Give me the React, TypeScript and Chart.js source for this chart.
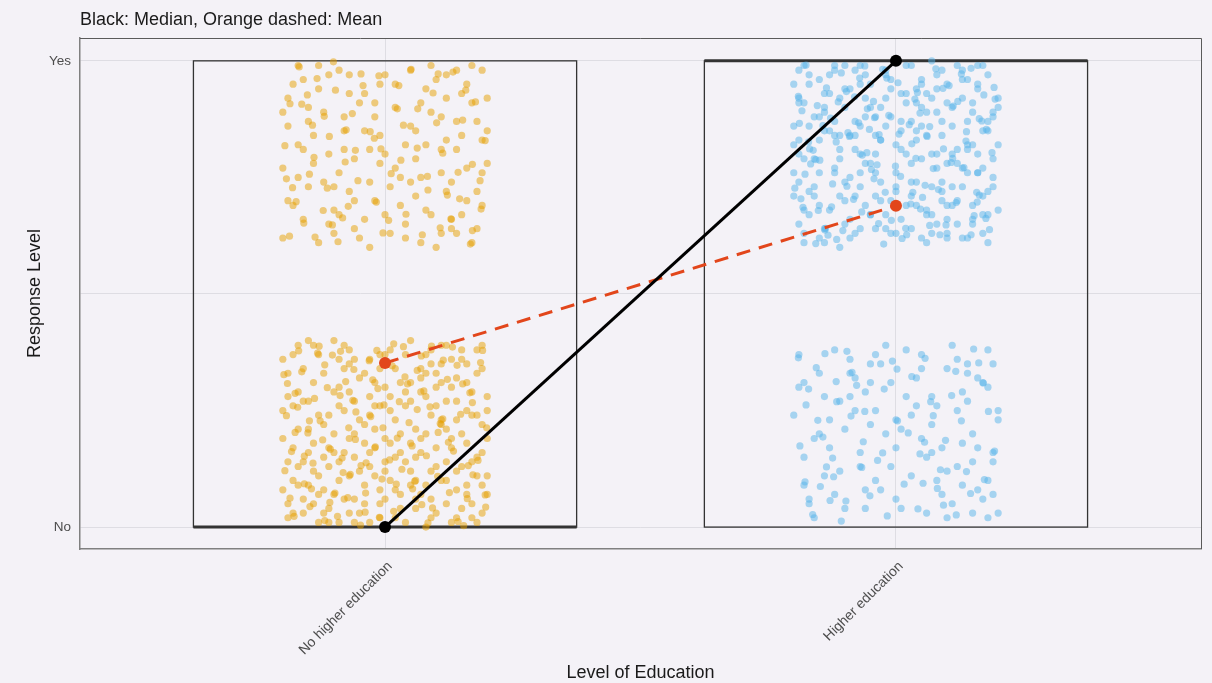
import React, { useEffect, useRef } from "react";
import { Chart, registerables } from "chart.js";

Chart.register(...registerables);

// ---------------- data ----------------
const categories = ["No higher education", "Higher education"];
const responseLevels = ["No", "Yes"];
const yTickValues = [0, 0.5, 1];
const medianValues = [0, 1];
const meanValues = [0.352, 0.689];
const boxLower = [0, 0];
const boxUpper = [1, 1];

// jitter offsets: pairs [dx, dy]
// (dy measured away from the response level, into the panel)
// first set in hundredths of a unit
const jitterNoEduNo = [
  -18,3, 5,12, 14,27, -7,35, 2,8, 19,16, -12,22, 9,38, -3,1, 16,31,
  -15,9, 7,19, -1,26, 12,5, -19,33, 4,37, 18,11, -9,14, 0,30, -6,6,
  11,23, -14,39, 17,2, -4,18, 8,28, -17,13, 3,4, 15,36, -10,29, 6,15,
  -2,21, 20,7, -13,1, 10,33, -8,25, 1,10, 13,17, -16,27, 5,40, -11,4,
  18,24, -5,32, 9,2, -20,19, 14,12, -1,37, 7,29, -15,16, 2,23, 16,7,
  -7,11, 12,39, -3,28, 19,34, -12,8, 6,21, -18,26, 0,14, 10,3, -9,36,
  4,26, -14,5, 15,20, -6,15, 11,35, -19,2, 8,9, -2,31, 17,14, -10,20,
  1,38, -16,34, 13,1, -4,9, 20,28, -8,39, 3,16, -13,24, 9,12, -1,5,
  14,32, -11,17, 6,6, -17,29, 18,38, -5,23, 11,10, -20,36, 0,19, 7,34,
  -9,1, 16,25, -3,13, 12,21, -15,40, 5,27, -7,3, 19,9, -12,33, 2,2,
  10,17, -18,10, 13,36, -6,27, 8,0, -14,18, 17,29, -1,34, 4,14, -10,7,
  15,4, -4,22, 20,19, -16,6, 7,32, -8,16, 1,25, -19,28, 11,39, -2,11,
  18,1, -13,37, 5,18, -11,13, 14,8, -5,3, 9,24, -17,21, 3,31, -7,38,
  12,14, -20,25, 0,6, 16,35, -9,30, 6,10, -14,12, 19,22, -3,36, 10,26,
  -12,3, 2,15, 17,5, -6,20, 13,30, -18,17, 8,37, -1,8, 15,13, -10,40,
  4,1, -15,27, 11,22, -4,33, 20,11, -8,6, 7,16, -17,9, 1,28, 14,2,
  -2,17, 18,33, -11,24, 9,6, -19,14, 5,31, -6,1, 12,27, -13,11, 3,20,
  16,9, -7,29, 0,37, -16,3, 10,13, -3,24, 19,39, -12,15, 6,4, -9,26,
  13,19, -20,8, 2,34, -5,12, 17,24, -14,31, 8,20, -1,2, 11,31, -18,37,
  7,7, -10,16, 15,38, -4,5, 1,18, -15,21, 19,3, -8,34, 4,29, 12,10,
  -13,7, 9,35, -2,26, 18,15, -17,39, 5,9, -7,19, 14,23, -11,1, 0,12,
  10,30, -16,14, 3,7, -6,36, 16,18, -9,10, 20,25, -3,16, 8,33, -19,5,
];

const jitterNoEduYes = [
  -16,4, 8,18, 15,33, -3,26, 2,10, 19,2, -10,37, 6,29, -19,14, 12,8,
  -6,21, 17,39, -13,6, 4,35, -1,16, 11,24, -18,31, 9,1, -8,12, 14,19,
  0,3, -15,27, 18,13, -5,38, 7,9, -11,20, 13,36, -2,30, 20,22, -17,1,
  3,25, -9,33, 16,5, -14,16, 10,40, -4,7, 5,14, -20,23, 12,28, -7,3,
  19,31, -12,11, 1,37, 15,16, -16,34, 8,6, -3,19, 11,12, -10,27, 6,21,
  -19,8, 14,2, -6,30, 2,23, 17,9, -13,39, 9,33, -1,5, 13,26, -8,15,
  4,38, -17,18, 20,15, -11,3, 7,25, -4,34, 16,30, -15,10, 0,20, 10,4,
  -9,24, 18,36, -2,12, 12,17, -20,38, 5,2, -7,28, 15,7, -14,22, 3,31,
  11,37, -5,9, 19,24, -18,5, 6,15, -10,32, 14,13, -3,40, 1,27, -16,19,
  9,11, -12,26, 17,1, -1,22, 13,34, -7,7, 4,18, -19,30, 20,8, -6,36,
  2,5, 16,23, -15,13, 8,32, -9,2, 11,19, -4,15, 18,28, -11,35, 7,39,
  -2,9, 14,37, -17,25, 0,33, 12,3, -8,19, 5,26, -13,1, 19,17, -20,11,
];

const jitterEduYes = [
  -19,2, 6,11, 14,24, -5,33, 1,7, 18,15, -11,21, 10,37, -2,3, 17,29,
  -14,10, 8,20, 0,27, 13,4, -18,32, 3,36, 19,12, -8,16, -1,30, -7,5,
  12,22, -15,38, 16,1, -3,17, 9,28, -16,12, 4,6, 15,35, -9,25, 5,14,
  -4,20, 20,8, -12,2, 11,31, -7,24, 2,9, 14,18, -17,28, 6,39, -10,6,
  17,23, -6,31, 8,3, -20,18, 15,11, -2,36, 7,27, -14,15, 3,22, 16,6,
  -8,13, 13,38, -4,29, 18,33, -13,7, 5,21, -19,26, 1,13, 9,2, -10,35,
  3,26, -15,4, 14,19, -7,14, 10,34, -18,1, 7,8, -3,30, 18,13, -11,19,
  0,37, -17,33, 12,1, -5,10, 19,27, -9,38, 4,15, -12,23, 8,11, -1,4,
  15,31, -12,16, 5,5, -16,29, 17,37, -6,22, 10,9, -19,35, 1,19, 6,33,
  -10,1, 16,24, -4,12, 11,20, -14,39, 4,26, -8,2, 20,10, -13,32, 2,1,
  9,16, -19,9, 12,35, -7,27, 7,0, -15,17, 18,28, -2,33, 3,13, -11,8,
  14,4, -5,22, 20,18, -17,5, 6,32, -9,16, 0,24, -20,29, 10,38, -3,10,
  17,1, -14,36, 4,17, -12,13, 13,8, -6,3, 8,23, -18,21, 2,31, -8,37,
  11,14, -20,24, -1,6, 15,34, -10,30, 5,10, -15,12, 19,21, -4,36, 9,26,
  -13,3, 1,15, 16,5, -7,20, 12,30, -19,17, 7,37, -2,8, 14,13, -11,40,
  3,1, -16,27, 10,22, -5,33, 19,11, -9,6, 6,16, -18,9, 0,28, 13,2,
  -3,17, 17,33, -12,24, 8,6, -20,14, 4,31, -7,1, 11,27, -14,11, 2,20,
  15,9, -8,29, -1,37, -17,3, 9,13, -4,24, 18,39, -13,15, 5,4, -10,26,
  12,19, -19,8, 1,34, -6,12, 16,24, -15,31, 7,20, -2,2, 10,31, -18,37,
  6,7, -11,16, 14,38, -5,5, 0,18, -16,21, 18,3, -9,34, 3,29, 11,10,
  -14,7, 8,35, -3,26, 17,15, -18,39, 4,9, -8,19, 13,23, -12,1, -1,12,
  9,30, -17,14, 2,7, -7,36, 15,18, -10,10, 19,25, -4,16, 7,33, -20,5,
  13,27, -6,8, 20,32, -15,24, 5,38, -11,29, 16,20, -2,14, 10,5, -19,20,
];

const jitterEduNo = [
  -17,5, 9,17, 16,32, -4,25, 3,11, 20,3, -9,36, 7,28, -18,15, 13,9,
  -5,22, 18,38, -12,7, 5,34, 0,17, 12,25, -19,30, 10,2, -7,13, 15,20,
  1,4, -14,28, 19,14, -4,37, 8,10, -10,21, 14,35, -1,31, 20,23, -16,2,
  4,26, -8,32, 17,6, -13,17, 11,39, -3,8, 6,15, -20,24, 13,29, -6,4,
  18,30, -11,12, 2,38, 16,17, -15,33, 9,7, -2,20, 12,13, -9,28, 7,22,
  -18,9, 15,3, -5,31, 3,24, 18,10, -12,38, 10,34, 0,6, 14,27, -7,16,
  5,37, -16,19, 19,16, -10,4, 8,26, -3,35, 17,31, -14,11, 1,21, 11,5,
  -8,25, 19,35, -1,13, 13,18, -19,37, 6,3, -6,29, 16,8, -13,23, 4,32,
  12,36, -4,10, 20,25, -17,6, 7,16, -9,33, 15,14, -2,39, 2,28, -15,20,
  10,12, -11,27, 18,2, 0,23, 14,33, -6,8, 5,19, -18,31, 19,7, -5,35,
];

// second set in thousandths of a unit
const jitterNoEduNoFine = [
  187,353, -63,272, -141,137, 72,48, -24,316, -193,239, 124,182, -93,23, 36,387, -158,93,
  152,307, -71,213, 9,144, -118,348, 196,69, -39,32, -176,287, 88,258, -6,103, 63,336,
  -107,167, 143,12, -169,378, 47,224, -82,117, 171,267, -31,357, -147,44, 103,109, -57,247,
  24,191, -198,327, 132,386, -98,73, 81,153, -14,297, -127,228, 163,132, -48,4, 114,358,
  -183,162, 54,82, -87,377, 199,213, -138,276, 17,34, -68,113, 148,242, -19,172, -163,333,
  76,292, -118,14, 33,124, -186,62, 122,317, -58,188, 182,143, -2,262, -103,369, 93,41,
  -37,138, 141,347, -151,202, 63,252, -108,53, 191,379, -77,312, 22,92, -171,257, 104,203,
  -11,21, 161,61, -129,388, 44,307, -196,121, 84,9, -28,237, 134,163, -88,282, 14,346,
  -144,82, 113,232, -61,338, 172,112, -178,23, 53,174, -113,299, 197,43, -4,213, -73,63,
  91,388, -158,152, 28,269, -122,187, 154,3, -47,132, 71,367, -191,308, 126,74, -16,379,
  108,222, -132,373, 58,98, -176,203, 17,393, -84,148, 166,288, -38,73, 39,322, -148,228,
];

const jitterNoEduYesFine = [
  171,364, -78,217, -152,73, 36,138, -17,303, -187,376, 104,28, -64,113, 186,257, -121,321,
  63,187, -168,13, 129,339, -43,53, 12,242, -109,162, 177,88, -92,388, 84,277, -139,207,
  -4,369, 152,127, -181,272, 51,18, -72,312, 113,198, -133,38, 24,103, -196,182, 167,393,
  -29,152, 94,69, -159,348, 143,239, -101,2, 41,329, -53,257, 196,171, -119,119, 73,373,
  -186,92, 122,288, -12,32, -148,243, 158,63, -83,337, 31,213, -113,273, 101,133, -58,192,
  188,318, -137,378, 64,103, -21,166, -174,302, 133,24, -97,63, 7,342, -142,138, 83,248,
  -47,28, 171,222, -193,253, 108,358, -76,148, 27,53, -163,93, 146,296, -8,189, -103,352,
];

const jitterEduYesFine = [
  176,338, -43,253, -128,123, 92,59, -9,342, -167,221, 137,172, -71,37, 21,373, -184,107,
  163,288, -57,197, 6,157, -139,363, 194,82, -26,18, -198,273, 73,231, -14,117, 48,318,
  -94,154, 128,28, -157,392, 39,209, -73,133, 158,282, -34,349, -136,58, 112,97, -48,233,
  31,178, -182,314, 147,373, -113,88, 66,141, -21,282, -149,213, 177,147, -61,11, 98,352,
  -171,174, 42,68, -104,364, 188,197, -124,264, 4,47, -56,103, 133,229, -33,158, -152,321,
  83,276, -107,26, 26,137, -191,76, 118,304, -66,202, 168,129, 9,248, -116,383, 104,53,
  -42,122, 153,332, -162,192, 57,267, -97,66, 183,362, -83,297, 37,82, -178,243, 93,189,
  -18,37, 172,73, -133,374, 52,293, -189,134, 78,17, -37,223, 138,152, -96,269, 19,359,
  -154,96, 108,218, -67,324, 163,124, -176,9, 61,162, -126,313, 192,57, -1,226, -81,77,
  86,373, -143,139, 33,282, -117,174, 147,16, -52,147, 66,353, -186,296, 121,87, -24,393,
  111,209, -138,359, 47,112, -169,189, 12,381, -91,162, 159,303, -44,87, 29,307, -157,212,
];

const jitterEduNoFine = [
  162,352, -88,238, -148,87, 47,157, -23,296, -191,363, 93,47, -67,128, 181,248, -117,312,
  56,182, -163,27, 117,334, -51,67, 3,228, -124,148, 173,102, -96,377, 68,269, -143,193,
  -7,356, 138,119, -176,262, 43,39, -77,304, 97,186, -129,57, 16,92, -188,174, 152,382,
  -36,143, 81,83, -156,342, 128,228, -107,13, 31,323, -61,248, 193,163, -122,108, 57,362,
  -178,97, 109,282, -17,24, -153,229, 146,72, -86,332, 24,202, -116,269, 87,123, -64,183,
  171,309, -139,372, 53,94, -26,159, -171,296, 118,26, -98,56, 2,339, -136,129, 73,239,
];

// ---------------- styling ----------------
const BG = "#f4f2f7";
const ORANGE = "rgba(230,159,0,0.5)";
const BLUE = "rgba(86,180,233,0.5)";
const MEAN_COLOR = "#e2461b";
const FONT = '"Liberation Sans", Arial, sans-serif';
const BOX_HALF = 0.375;
const POINT_R = 3.6;

function toPoints(pairs: number[], cat: number, level: number, unit: number) {
  const out: { x: number; y: number }[] = [];
  for (let i = 0; i < pairs.length; i += 2) {
    const dx = pairs[i] / unit;
    const dy = pairs[i + 1] / unit;
    out.push({ x: cat + dx, y: level === 0 ? level + dy : level - dy });
  }
  return out;
}

const bgPlugin = {
  id: "bgPlugin",
  beforeDraw(chart: any) {
    const { ctx, width, height } = chart;
    ctx.save();
    ctx.fillStyle = BG;
    ctx.fillRect(0, 0, width, height);
    ctx.restore();
  },
};

const boxPlugin = {
  id: "boxPlugin",
  beforeDatasetsDraw(chart: any) {
    const { ctx, scales } = chart;
    const xs = scales.x;
    const ys = scales.y;
    ctx.save();
    categories.forEach((_, i) => {
      const x0 = xs.getPixelForValue(i - BOX_HALF);
      const x1 = xs.getPixelForValue(i + BOX_HALF);
      const yLo = ys.getPixelForValue(boxLower[i]);
      const yHi = ys.getPixelForValue(boxUpper[i]);
      ctx.strokeStyle = "#333333";
      ctx.lineWidth = 1.3;
      ctx.strokeRect(x0, yHi, x1 - x0, yLo - yHi);
      const ym = ys.getPixelForValue(medianValues[i]);
      ctx.lineWidth = 3;
      ctx.beginPath();
      ctx.moveTo(x0, ym);
      ctx.lineTo(x1, ym);
      ctx.stroke();
    });
    ctx.restore();
  },
};

const framePlugin = {
  id: "framePlugin",
  afterDraw(chart: any) {
    const { ctx, chartArea } = chart;
    const { left, right, top, bottom } = chartArea;
    ctx.save();
    ctx.strokeStyle = "#5a5a5a";
    ctx.lineWidth = 1;
    ctx.beginPath();
    ctx.moveTo(left, top + 0.5);
    ctx.lineTo(right + 0.5, top + 0.5);
    ctx.lineTo(right + 0.5, bottom);
    ctx.stroke();

    ctx.fillStyle = "#1a1a1a";
    ctx.font = `18px ${FONT}`;
    ctx.textAlign = "left";
    ctx.textBaseline = "alphabetic";
    ctx.fillText("Black: Median, Orange dashed: Mean", 80, 25);

    ctx.textAlign = "center";
    ctx.fillText("Level of Education", (left + right) / 2, 678);

    ctx.translate(40, (top + bottom) / 2);
    ctx.rotate(-Math.PI / 2);
    ctx.fillText("Response Level", 0, 0);
    ctx.restore();
  },
};

function scatterSet(label: string, data: { x: number; y: number }[], color: string) {
  return {
    label,
    data,
    backgroundColor: color,
    borderWidth: 0,
    pointRadius: POINT_R,
    order: 2,
  };
}

export default function App() {
  const ref = useRef<HTMLCanvasElement | null>(null);

  useEffect(() => {
    if (!ref.current) return;
    const chart = new Chart(ref.current, {
      type: "scatter",
      data: {
        datasets: [
          {
            type: "line",
            label: "Median",
            data: categories.map((_, i) => ({ x: i, y: medianValues[i] })),
            borderColor: "#000000",
            backgroundColor: "#000000",
            borderWidth: 3,
            pointRadius: 6,
            pointBackgroundColor: "#000000",
            pointBorderWidth: 0,
            showLine: true,
            order: 0,
          } as any,
          {
            type: "line",
            label: "Mean",
            data: categories.map((_, i) => ({ x: i, y: meanValues[i] })),
            borderColor: MEAN_COLOR,
            backgroundColor: MEAN_COLOR,
            borderWidth: 3,
            borderDash: [14, 9],
            pointRadius: 6,
            pointBackgroundColor: MEAN_COLOR,
            pointBorderWidth: 0,
            showLine: true,
            order: 1,
          } as any,
          scatterSet("No higher education - No", toPoints(jitterNoEduNo, 0, 0, 100), ORANGE),
          scatterSet("No higher education - No (2)", toPoints(jitterNoEduNoFine, 0, 0, 1000), ORANGE),
          scatterSet("No higher education - Yes", toPoints(jitterNoEduYes, 0, 1, 100), ORANGE),
          scatterSet("No higher education - Yes (2)", toPoints(jitterNoEduYesFine, 0, 1, 1000), ORANGE),
          scatterSet("Higher education - Yes", toPoints(jitterEduYes, 1, 1, 100), BLUE),
          scatterSet("Higher education - Yes (2)", toPoints(jitterEduYesFine, 1, 1, 1000), BLUE),
          scatterSet("Higher education - No", toPoints(jitterEduNo, 1, 0, 100), BLUE),
          scatterSet("Higher education - No (2)", toPoints(jitterEduNoFine, 1, 0, 1000), BLUE),
        ],
      },
      options: {
        responsive: false,
        animation: false,
        devicePixelRatio: 1,
        layout: { padding: { top: 38, right: 11, left: 0, bottom: 0 } },
        plugins: {
          legend: { display: false },
          tooltip: { enabled: false },
          title: { display: false },
        },
        scales: {
          x: {
            type: "linear",
            min: -0.597,
            max: 1.597,
            afterBuildTicks: (s: any) => {
              s.ticks = categories.map((_, i) => ({ value: i }));
            },
            afterFit: (s: any) => {
              s.height = 134;
            },
            grid: { color: "#dedde3", lineWidth: 1, drawTicks: false },
            border: { color: "#808080", width: 1.5 },
            ticks: {
              autoSkip: false,
              minRotation: 45,
              maxRotation: 45,
              padding: 9,
              labelOffset: 5,
              color: "#4d4d4d",
              font: { family: FONT, size: 14 },
              callback: (v: any) => categories[Math.round(Number(v))] ?? "",
            },
          },
          y: {
            type: "linear",
            min: -0.047,
            max: 1.049,
            afterBuildTicks: (s: any) => {
              s.ticks = yTickValues.map((v) => ({ value: v }));
            },
            afterFit: (s: any) => {
              s.width = 80;
            },
            grid: { color: "#dedde3", lineWidth: 1, drawTicks: false },
            border: { color: "#808080", width: 1.5 },
            ticks: {
              autoSkip: false,
              padding: 9,
              color: "#4d4d4d",
              font: { family: FONT, size: 13.5 },
              callback: (v: any) => {
                const n = Number(v);
                if (n === 0) return responseLevels[0];
                if (n === 1) return responseLevels[1];
                return "";
              },
            },
          },
        },
      },
      plugins: [bgPlugin, boxPlugin, framePlugin],
    });
    return () => chart.destroy();
  }, []);

  return (
    <div style={{ position: "fixed", left: 0, top: 0, width: 1212, height: 683, background: BG }}>
      <canvas ref={ref} width={1212} height={683} style={{ display: "block", width: 1212, height: 683 }} />
    </div>
  );
}
